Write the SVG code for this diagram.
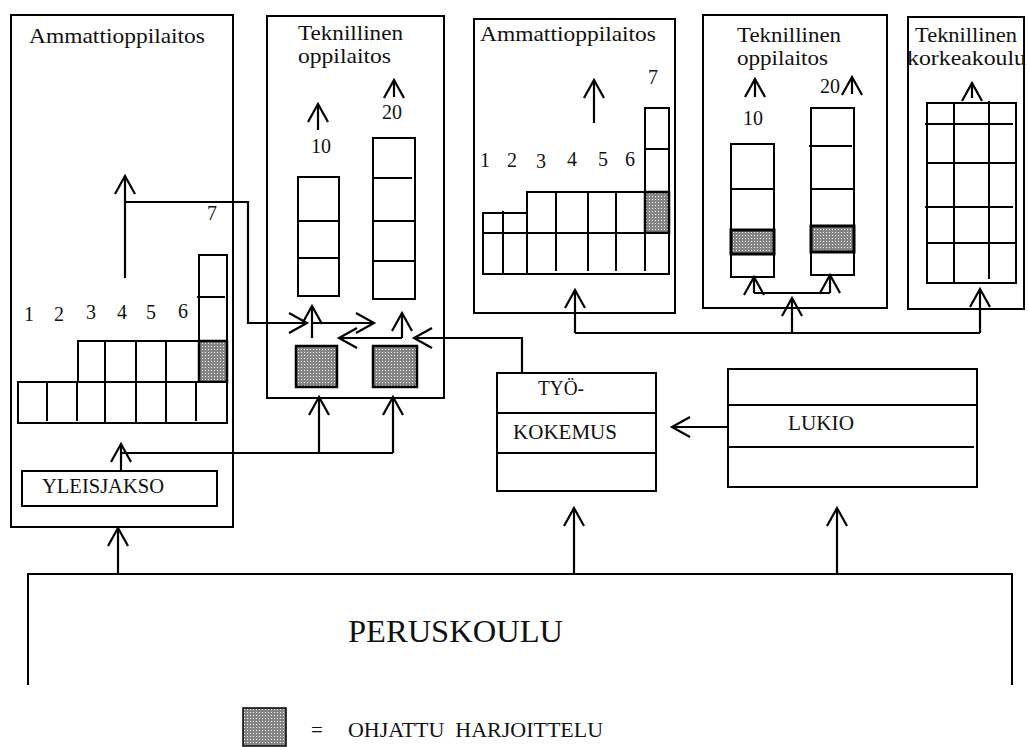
<svg xmlns="http://www.w3.org/2000/svg" width="1029" height="747" viewBox="0 0 1029 747">
<style>
.b{fill:none;stroke:#000;stroke-width:2}
.w{fill:#fff;stroke:#000;stroke-width:2}
.s{fill:url(#dots);stroke:#000;stroke-width:2.5}
.l{stroke:#000;stroke-width:2;fill:none}
.c{stroke:#000;stroke-width:2.2;fill:none;marker-end:url(#ah)}
.t{font-family:"Liberation Serif","Times New Roman",serif;font-size:21px;fill:#111}
.n{font-family:"Liberation Serif","Times New Roman",serif;font-size:20px;fill:#111;text-anchor:middle}
</style>
<defs>
<pattern id="dots" width="3" height="3" patternUnits="userSpaceOnUse">
<rect width="3" height="3" fill="#858585"/>
<rect x="1" y="1" width="1" height="1" fill="#f0f0f0"/>
</pattern>
<marker id="ah" markerUnits="userSpaceOnUse" markerWidth="40" markerHeight="40" viewBox="-20 -20 40 40" refX="0" refY="0" orient="auto" overflow="visible">
<path d="M-18,-10 L0,0 L-18,10" fill="none" stroke="#000" stroke-width="2.2"/>
</marker>
</defs>
<rect width="1029" height="747" fill="#fff"/>

<g id="ammattioppilaitos1">
<rect class="b" x="11" y="15" width="222" height="512"/>
<text class="t" x="29" y="43" textLength="176" lengthAdjust="spacingAndGlyphs">Ammattioppilaitos</text>
<text class="n" x="212" y="220">7</text>
<rect class="w" x="199" y="255" width="28" height="86"/>
<line class="l" x1="197" y1="297" x2="225" y2="297"/>
<rect class="w" x="78" y="341" width="121" height="41"/>
<line class="l" x1="105" y1="341" x2="105" y2="382"/>
<line class="l" x1="136" y1="341" x2="136" y2="382"/>
<line class="l" x1="166" y1="341" x2="166" y2="382"/>
<rect class="s" x="199" y="341" width="28" height="41"/>
<rect class="w" x="18" y="382" width="209" height="41"/>
<line class="l" x1="47" y1="381" x2="47" y2="421"/>
<line class="l" x1="77" y1="382" x2="77" y2="421"/>
<line class="l" x1="105" y1="382" x2="105" y2="423"/>
<line class="l" x1="136" y1="382" x2="136" y2="423"/>
<line class="l" x1="166" y1="382" x2="166" y2="423"/>
<line class="l" x1="196" y1="382" x2="196" y2="421"/>
<text class="n" x="29" y="321">1</text>
<text class="n" x="59" y="321">2</text>
<text class="n" x="91" y="319">3</text>
<text class="n" x="122" y="319">4</text>
<text class="n" x="151" y="319">5</text>
<text class="n" x="183" y="318">6</text>
<rect class="b" x="22" y="471" width="195" height="35"/>
<text class="t" x="42" y="493" textLength="122" lengthAdjust="spacingAndGlyphs">YLEISJAKSO</text>
</g>

<g id="teknillinen-oppilaitos1">
<rect class="b" x="267" y="16" width="177" height="382"/>
<text class="t" x="298" y="40" textLength="105" lengthAdjust="spacingAndGlyphs">Teknillinen</text>
<text class="t" x="298" y="63" textLength="93" lengthAdjust="spacingAndGlyphs">oppilaitos</text>
<text class="n" x="321" y="153">10</text>
<text class="n" x="392" y="119">20</text>
<rect class="w" x="298" y="177" width="41" height="119"/>
<line class="l" x1="298" y1="221" x2="339" y2="221"/>
<line class="l" x1="298" y1="258" x2="339" y2="258"/>
<rect class="w" x="373" y="138" width="42" height="161"/>
<line class="l" x1="372" y1="178" x2="412" y2="178"/>
<line class="l" x1="373" y1="221" x2="415" y2="221"/>
<line class="l" x1="373" y1="261" x2="415" y2="261"/>
<rect class="s" x="296" y="346" width="41" height="41"/>
<rect class="s" x="373" y="346" width="44" height="41"/>
</g>

<g id="ammattioppilaitos2">
<rect class="b" x="474" y="19" width="201" height="294"/>
<text class="t" x="480" y="41" textLength="176" lengthAdjust="spacingAndGlyphs">Ammattioppilaitos</text>
<text class="n" x="653" y="84">7</text>
<text class="n" x="485" y="167">1</text>
<text class="n" x="512" y="167">2</text>
<text class="n" x="541" y="168">3</text>
<text class="n" x="572" y="166">4</text>
<text class="n" x="603" y="166">5</text>
<text class="n" x="630" y="166">6</text>
<rect class="w" x="645" y="108" width="24" height="84"/>
<line class="l" x1="644" y1="149" x2="669" y2="149"/>
<rect class="w" x="483" y="213" width="44" height="20"/>
<line class="l" x1="503" y1="211" x2="503" y2="233"/>
<rect class="w" x="527" y="192" width="118" height="41"/>
<line class="l" x1="556" y1="192" x2="556" y2="233"/>
<line class="l" x1="588" y1="192" x2="588" y2="233"/>
<line class="l" x1="616" y1="192" x2="616" y2="233"/>
<rect class="s" x="645" y="192" width="24" height="41"/>
<rect class="w" x="483" y="233" width="186" height="41"/>
<line class="l" x1="503" y1="233" x2="503" y2="274"/>
<line class="l" x1="527" y1="233" x2="527" y2="274"/>
<line class="l" x1="556" y1="233" x2="556" y2="271"/>
<line class="l" x1="588" y1="233" x2="588" y2="271"/>
<line class="l" x1="616" y1="233" x2="616" y2="271"/>
<line class="l" x1="645" y1="233" x2="645" y2="271"/>
</g>

<g id="teknillinen-oppilaitos2">
<rect class="b" x="703" y="15" width="184" height="293"/>
<text class="t" x="737" y="42" textLength="104" lengthAdjust="spacingAndGlyphs">Teknillinen</text>
<text class="t" x="737" y="65" textLength="91" lengthAdjust="spacingAndGlyphs">oppilaitos</text>
<text class="n" x="753" y="125">10</text>
<text class="n" x="830" y="93">20</text>
<rect class="w" x="731" y="144" width="43" height="133"/>
<line class="l" x1="731" y1="189" x2="774" y2="189"/>
<rect x="731" y="230" width="43" height="24" fill="url(#dots)" stroke="#000" stroke-width="3"/>
<rect class="w" x="811" y="108" width="43" height="167"/>
<line class="l" x1="809" y1="146" x2="852" y2="146"/>
<line class="l" x1="811" y1="189" x2="854" y2="189"/>
<rect x="811" y="226" width="43" height="26" fill="url(#dots)" stroke="#000" stroke-width="3"/>
</g>

<g id="teknillinen-korkeakoulu">
<rect class="b" x="908" y="17" width="116" height="292"/>
<text class="t" x="915" y="42" textLength="102" lengthAdjust="spacingAndGlyphs">Teknillinen</text>
<text class="t" x="907" y="65" textLength="119" lengthAdjust="spacingAndGlyphs">korkeakoulu</text>
<rect class="w" x="927" y="103" width="89" height="180"/>
<line class="l" x1="954" y1="103" x2="954" y2="283"/>
<line class="l" x1="989" y1="101" x2="989" y2="279"/>
<line class="l" x1="925" y1="124" x2="1013" y2="124"/>
<line class="l" x1="927" y1="163" x2="1016" y2="163"/>
<line class="l" x1="925" y1="207" x2="1013" y2="207"/>
<line class="l" x1="927" y1="243" x2="1016" y2="243"/>
</g>

<g id="tyokokemus">
<rect class="b" x="497" y="373" width="159" height="118"/>
<line class="l" x1="497" y1="413" x2="656" y2="413"/>
<line class="l" x1="497" y1="453" x2="656" y2="453"/>
<text class="t" x="538" y="395" textLength="46" lengthAdjust="spacingAndGlyphs">TYÖ-</text>
<text class="t" x="513" y="439" textLength="104" lengthAdjust="spacingAndGlyphs">KOKEMUS</text>
</g>

<g id="lukio">
<rect class="b" x="728" y="369" width="249" height="118"/>
<line class="l" x1="728" y1="405" x2="977" y2="405"/>
<line class="l" x1="728" y1="447" x2="974" y2="447"/>
<text class="t" x="788" y="430" textLength="66" lengthAdjust="spacingAndGlyphs">LUKIO</text>
</g>

<g id="peruskoulu">
<path class="l" d="M28,685 V574 H1012 V685"/>
<text class="t" x="348" y="642" style="font-size:32px" textLength="215" lengthAdjust="spacingAndGlyphs">PERUSKOULU</text>
</g>

<g id="legend">
<rect x="243" y="708" width="43" height="38" fill="url(#dots)" stroke="#000" stroke-width="1.5"/>
<text class="t" x="311" y="737">=</text>
<text class="t" x="348" y="737" textLength="255" lengthAdjust="spacingAndGlyphs" xml:space="preserve">OHJATTU  HARJOITTELU</text>
</g>

<g id="connectors">
<path class="c" d="M125,278 V176"/>
<path class="c" d="M125,202 H248 V323 H307"/>
<path class="c" d="M312,323 H374"/>
<path class="c" d="M312,338 V306"/>
<path class="c" d="M402,338 V313"/>
<path class="c" d="M402,338 H339"/>
<path class="c" d="M522,373 V338 H414"/>
<path class="c" d="M121,470 V444"/>
<path class="l" d="M121,453 H393"/>
<path class="c" d="M319,453 V397"/>
<path class="c" d="M393,453 V397"/>
<path class="c" d="M118,574 V528"/>
<path class="c" d="M574,574 V508"/>
<path class="c" d="M837,574 V508"/>
<path class="c" d="M727,427 H672"/>
<path class="l" d="M575,333 H980"/>
<path class="c" d="M575,333 V290"/>
<path class="c" d="M792,333 V298"/>
<path class="c" d="M980,333 V289"/>
<path class="l" d="M754,293 H830"/>
<path class="c" d="M754,293 V277"/>
<path class="c" d="M830,293 V275"/>
<path class="c" d="M318,130 V104"/>
<path class="c" d="M394,97 V80"/>
<path class="c" d="M594,123 V80"/>
<path class="c" d="M755,97 V79"/>
<path class="c" d="M852,94 V77"/>
<path class="c" d="M972,98 V83"/>
</g>
</svg>
